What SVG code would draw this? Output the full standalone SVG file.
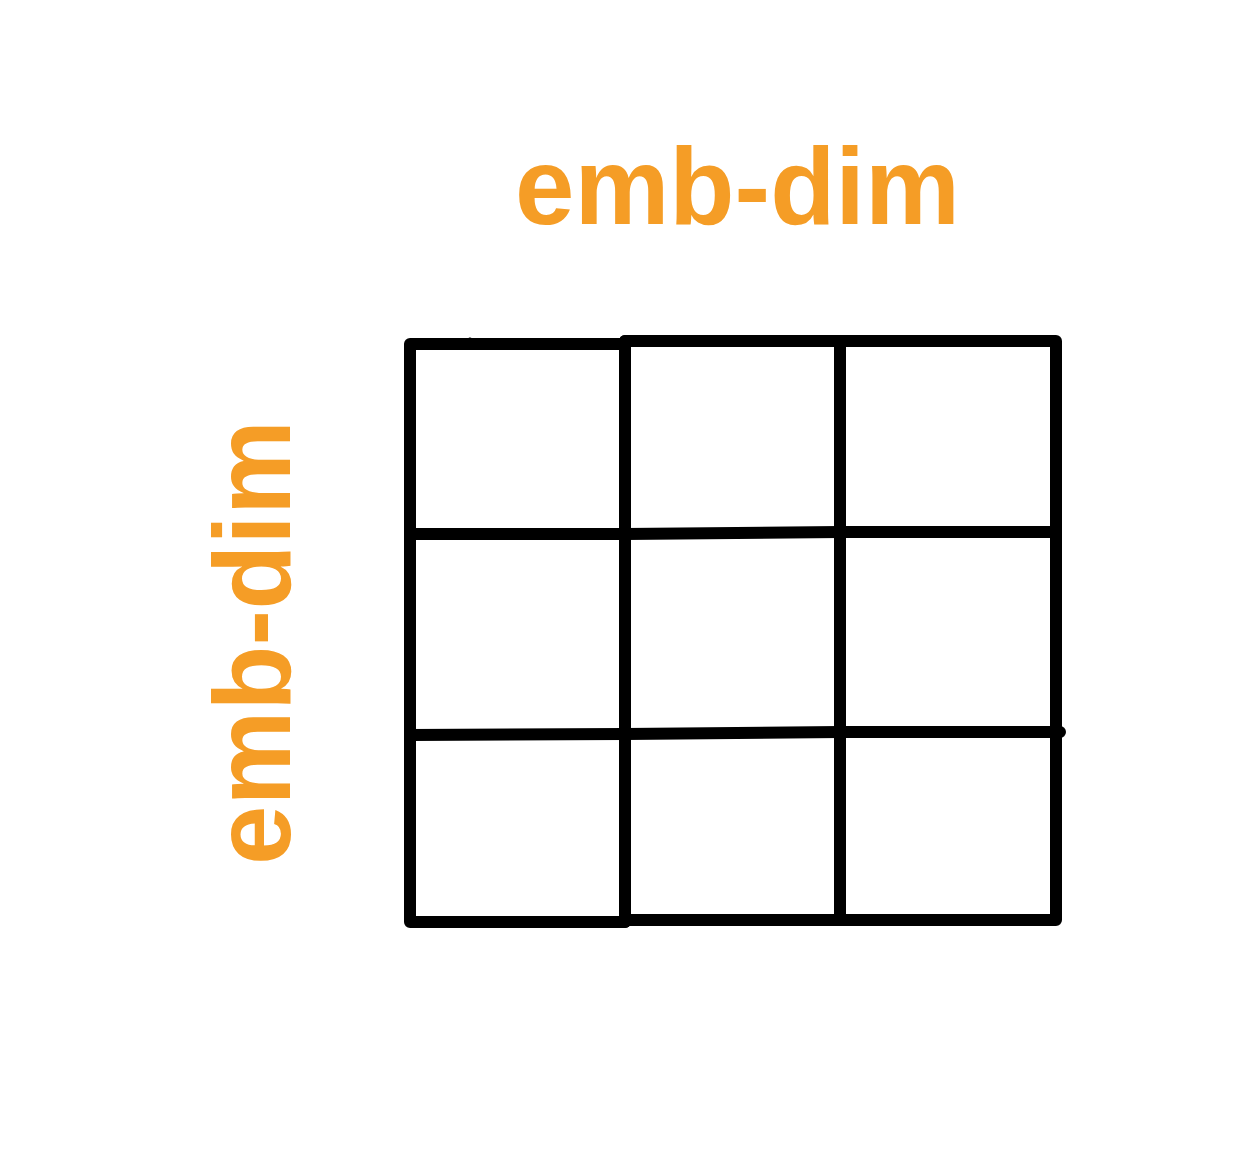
<svg xmlns="http://www.w3.org/2000/svg" width="1236" height="1166" viewBox="0 0 1236 1166">
<style>
.g{fill:none;stroke:#000;stroke-width:12;stroke-linecap:round;stroke-linejoin:round}
.lbl{fill:#F59D26;font-family:"Liberation Sans",Arial,sans-serif;font-size:110px;font-weight:bold}
</style>
<rect width="1236" height="1166" fill="#fff"/>
<g id="grid">
<path class="g" d="M625,344 L410,344 L410,922 L625,922"/>
<path class="g" d="M625,341 L1056,341 L1056,920 L625,920"/>
<path class="g" d="M625,341 L625,922"/>
<path class="g" d="M840,341 L840,920"/>
<path class="g" d="M410,534 L625,534 L840,532 L1056,532"/>
<path class="g" d="M410,735 L625,734 L840,732 L1060,732"/>
<path class="g" d="M470,340 L471,344" style="stroke-width:5"/>
</g>
<g id="label-top">
<text class="lbl" x="515" y="224" textLength="445" lengthAdjust="spacingAndGlyphs">emb-dim</text>
</g>
<g id="label-left">
<text class="lbl" transform="translate(290,865) rotate(-90)" x="0" y="0" textLength="445" lengthAdjust="spacingAndGlyphs">emb-dim</text>
</g>
</svg>
